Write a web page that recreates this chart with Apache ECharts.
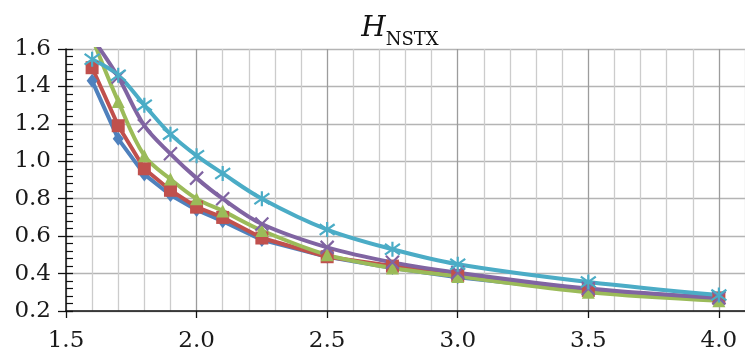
<!DOCTYPE html>
<html><head><meta charset="utf-8">
<script src="https://cdn.jsdelivr.net/npm/echarts@6/dist/echarts.min.js"></script>
<style>html,body{margin:0;padding:0;background:#fff}#c{width:745px;height:353px}</style>
</head><body><div id="c"></div>
<script>
const xValues = [1.6, 1.7, 1.8, 1.9, 2.0, 2.1, 2.25, 2.5, 2.75, 3.0, 3.5, 4.0];
const blueSeries   = [1.43, 1.12, 0.93, 0.82, 0.74, 0.68, 0.58, 0.49, 0.43, 0.38, 0.305, 0.265];
const redSeries    = [1.50, 1.19, 0.96, 0.845, 0.755, 0.70, 0.59, 0.49, 0.44, 0.39, 0.31, 0.27];
const greenSeries  = [1.66, 1.32, 1.03, 0.905, 0.80, 0.735, 0.63, 0.50, 0.43, 0.385, 0.30, 0.255];
const purpleSeries = [1.66, 1.45, 1.19, 1.04, 0.91, 0.80, 0.665, 0.54, 0.46, 0.405, 0.32, 0.27];
const cyanSeries   = [1.545, 1.46, 1.30, 1.145, 1.03, 0.935, 0.80, 0.635, 0.53, 0.45, 0.355, 0.285];
const xTicks = [1.5, 2.0, 2.5, 3.0, 3.5, 4.0];
const yTicks = [0.2, 0.4, 0.6, 0.8, 1.0, 1.2, 1.4, 1.6];

const pair = arr => xValues.map((x, i) => [x, arr[i]]);
const font = '"DejaVu Serif", serif';
const chart = echarts.init(document.getElementById('c'));

function mk(name, data, color, symbol, size, smooth, stroke) {
  return {
    name, type: 'line', data: pair(data), smooth: smooth ? 0.35 : false,
    symbol, symbolSize: size, showSymbol: true,
    lineStyle: { color, width: 4 },
    itemStyle: stroke ? { color: 'rgba(0,0,0,0)', borderColor: color, borderWidth: 2.2 } : { color, borderColor: color, borderWidth: 0 },
    z: 3, clip: true, animation: false
  };
}

chart.setOption({
  animation: false,
  title: {
    text: '{h|H}{s|NSTX}', left: 395, top: 4, textAlign: 'center',
    textStyle: { fontWeight: 'normal', rich: {
      h: { fontFamily: font, fontStyle: 'italic', fontWeight: 'normal', fontSize: 28, color: '#111', verticalAlign: 'bottom', lineHeight: 34 },
      s: { fontFamily: font, fontWeight: 'normal', fontSize: 18, color: '#111', verticalAlign: 'bottom', lineHeight: 34, padding: [0, 0, -6, 0] }
    } }
  },
  grid: { left: 66, top: 49, width: 682, height: 264, containLabel: false },
  xAxis: [{
    type: 'value', min: 1.5, max: 4.1, interval: 0.5, position: 'bottom',
    axisLine: { show: true, lineStyle: { color: '#111', width: 1.5 } },
    axisTick: { show: true, length: 7, lineStyle: { color: '#111', width: 1.3 } },
    axisLabel: { fontFamily: font, fontSize: 23, color: '#1a1a1a', margin: 19, showMaxLabel: false,
      formatter: v => xTicks.some(t => Math.abs(t - v) < 1e-6) ? v.toFixed(1) : '' },
    splitLine: { show: false }
  }, {
    type: 'value', min: 1.5, max: 4.1, interval: 0.1, position: 'bottom', offset: 0,
    axisLine: { show: false }, axisTick: { show: false }, axisLabel: { show: false },
    splitLine: { show: true, lineStyle: { color: ['#9c9c9c', '#cccccc', '#cccccc', '#cccccc', '#cccccc'], width: 1.3 } }
  }],
  yAxis: [{
    type: 'value', min: 0.2, max: 1.6, interval: 0.2, position: 'left',
    axisLine: { show: true, lineStyle: { color: '#111', width: 1.5 } },
    axisTick: { show: true, length: 8, lineStyle: { color: '#111', width: 1.3 } },
    axisLabel: { fontFamily: font, fontSize: 23, color: '#1a1a1a', margin: 15,
      formatter: v => yTicks.some(t => Math.abs(t - v) < 1e-6) ? v.toFixed(1) : '' },
    splitLine: { show: true, lineStyle: { color: '#b4b4b4', width: 1.3 } }
  }, {
    type: 'value', min: 0.2, max: 1.6, interval: 0.2, position: 'left', offset: 0,
    axisLine: { show: false },
    axisTick: { show: true, inside: true, length: 7, lineStyle: { color: '#111', width: 1.3 } },
    minorTick: { show: true, splitNumber: 5, length: 7, lineStyle: { color: '#111', width: 1.2 } },
    axisLabel: { show: false },
    splitLine: { show: false }
  }],
  series: [
    mk('A', blueSeries, '#4F81BD', 'diamond', [11, 14], false, false),
    mk('B', redSeries, '#C0504D', 'rect', 13, false, false),
    mk('C', greenSeries, '#9BBB59', 'triangle', 13, true, false),
    mk('D', purpleSeries, '#8064A2', 'path://M0,0L10,10M10,0L0,10', 13, true, true),
    mk('E', cyanSeries, '#4BACC6', 'path://M0,0L10,10M10,0L0,10M5,-2L5,12', 15, true, true)
  ]
});
</script></body></html>
